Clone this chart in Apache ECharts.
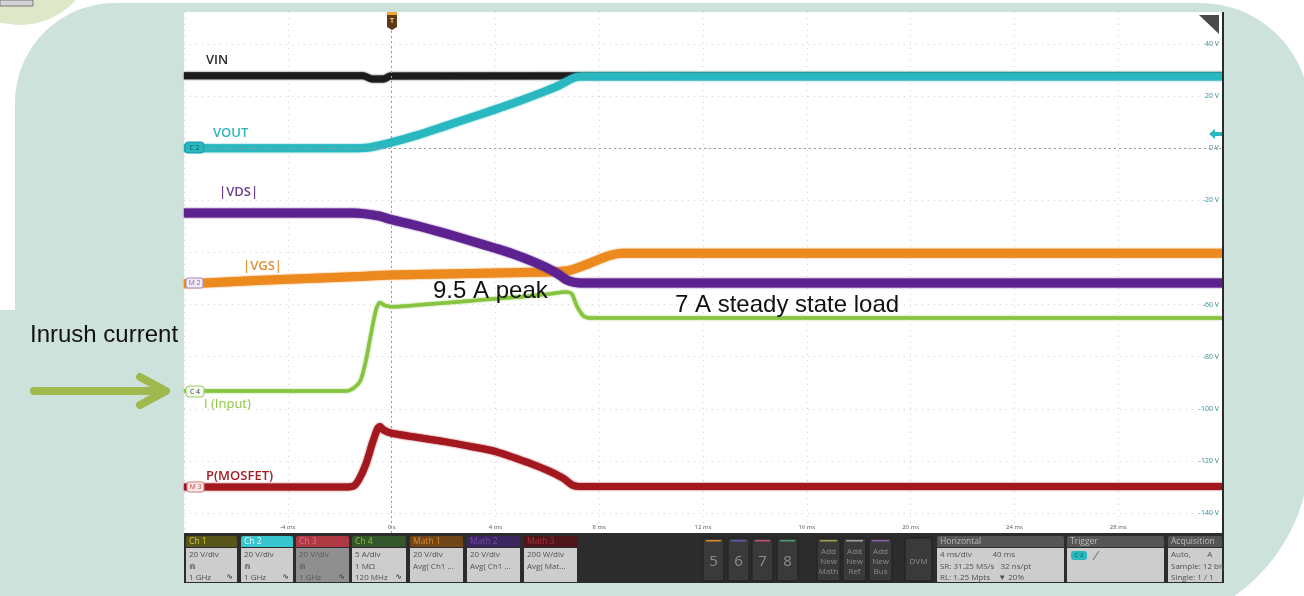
<!DOCTYPE html>
<html>
<head>
<meta charset="utf-8">
<script src="https://cdn.jsdelivr.net/npm/echarts@6/dist/echarts.min.js"></script>
<style>
  html, body { margin: 0; padding: 0; background: #ffffff; }
  #c { width: 1304px; height: 596px; }
</style>
</head>
<body>
<div id="c"></div>
<script>
// ---- captured traces: time in ms, values in each channel's own unit ----
const vinT  = [-8, -1.1, -0.75, -0.3, -0.05, 32];
const vinV  = [27.8, 27.8, 26.6, 26.6, 27.7, 27.8];            // V

const voutT = [-8, -1.5, -0.8, 0, 1, 2, 3, 4, 5, 6, 6.5, 7.0, 7.3, 32];
const voutV = [0, 0, 0.4, 2.2, 5.0, 8.3, 11.6, 14.9, 18.4, 22.2, 24.3, 26.9, 27.5, 27.5]; // V

const vgsT  = [-8, -7, -5, -3, -1, 0, 2, 4, 6, 6.8, 7.2, 8.4, 8.9, 32];
const vgsV  = [0, 0.4, 1.3, 2.1, 2.9, 3.3, 3.7, 4.1, 4.5, 5.0, 6.2, 10.8, 11.7, 11.7]; // V

const vdsT  = [-8, -1.5, -1.0, -0.5, 0, 1, 2.1, 3, 4, 4.66, 5.5, 6, 6.4, 6.75, 7.05, 7.3, 32];
const vdsV  = [27.1, 27.1, 26.8, 26.0, 24.6, 22.2, 19.2, 16.6, 13.6, 11.5, 8.3, 6.0, 3.8, 1.4, 0.5, 0.3, 0.3]; // V

const iinT  = [-8, -1.75, -1.45, -1.2, -1.0, -0.8, -0.6, -0.45, -0.25, 0, 1, 2, 3, 4, 5, 6, 6.75, 6.95, 7.15, 7.4, 7.7, 32];
const iinV  = [0, 0, 0.3, 1.0, 2.8, 5.4, 7.8, 8.5, 8.2, 8.1, 8.25, 8.45, 8.65, 8.85, 9.05, 9.3, 9.5, 9.3, 8.1, 7.2, 7.0, 7.0]; // A

const pmosT = [-8, -1.7, -1.45, -1.25, -1.0, -0.75, -0.55, -0.45, -0.3, 0, 1, 2.1, 3, 4.05, 5.3, 6.0, 6.6, 6.95, 7.2, 32];
const pmosV = [0, 0, 4, 30, 85, 165, 222, 232, 218, 206, 190, 173, 156, 135, 92, 64, 34, 8, 2, 2]; // W

// vertical settings of each channel: units per division and position in divisions
const chScale = { vin: 20, vout: 20, vgs: 20, vds: 20, iin: 5, pmos: 200 };
const chPos   = { vin: 0, vout: 0, vgs: -2.6, vds: -2.6, iin: -4.66, pmos: -6.5 };

// graticule
const timeTicks = [-8, -4, 0, 4, 8, 12, 16, 20, 24, 28, 32];
const voltTicks = [40, 20, 0, -20, -40, -60, -80, -100, -120, -140];
const VOLTS_PER_DIV = 20;

const peakCurrent = Math.max(...iinV);
const steadyCurrent = iinV[iinV.length - 1];

function trace(key, t, v) {
  return t.map((x, i) => [x, (v[i] / chScale[key] + chPos[key]) * VOLTS_PER_DIV]);
}

// ---- screen geometry (pixels) ----
const SX = 184, SY = 12, SW = 1038, SH = 521;
const PX_PER_V = (513 - 44) / 180;
const yMax = 40 + (44 - SY) / PX_PER_V;
const yMin = -140 - (SY + SH - 513) / PX_PER_V;

const chart = echarts.init(document.getElementById('c'), null, { renderer: 'canvas' });

function lineSeries(name, data, color, width, z) {
  return {
    name, type: 'line', data, showSymbol: false, symbol: 'none',
    smooth: 0.25,
    z, lineStyle: { color, width, cap: 'butt', join: 'round', shadowBlur: 2, shadowColor: color },
    emphasis: { disabled: true }, animation: false
  };
}

// points along a circular arc (angles in degrees, screen orientation)
function arcPts(cx, cy, r, a0, a1, n) {
  const out = [];
  for (let i = 0; i <= n; i++) {
    const a = (a0 + (a1 - a0) * i / n) * Math.PI / 180;
    out.push([cx + r * Math.cos(a), cy + r * Math.sin(a)]);
  }
  return out;
}

// rounded backdrop panel
const panelPts = [].concat(
  arcPts(115, 103, 100, 180, 270, 24),
  arcPts(1200, 113, 110, 270, 360, 24),
  arcPts(1131, 450, 179, 0, 90, 30),
  [[0, 629], [0, 310], [15, 310]]
);

const FONT = '"Open Sans"';

// status-bar tile
function tile(x, w, head, headFill, headText, bodyFill, bodyText, lines, wave) {
  const els = [
    { type: 'rect', shape: { x, y: 536, width: w, height: 11, r: [2, 2, 0, 0] }, style: { fill: headFill } },
    { type: 'text', x: x + 3, y: 541.5, style: { text: head, fill: headText, font: '8.5px ' + FONT, textVerticalAlign: 'middle' } },
    { type: 'rect', shape: { x, y: 548, width: w, height: 34 }, style: { fill: bodyFill } }
  ];
  lines.forEach((s, i) => {
    els.push({ type: 'text', x: x + 3, y: 555 + i * 11.5, style: { text: s, fill: bodyText, font: '8px ' + FONT, textVerticalAlign: 'middle' } });
  });
  if (wave) {
    els.push({ type: 'text', x: x + w - 4, y: 577, style: { text: '∿', fill: '#444', font: 'bold 8px "DejaVu Sans"', textAlign: 'right', textVerticalAlign: 'middle' } });
  }
  return els;
}

function button(x, w, lineColor, label, big) {
  const els = [
    { type: 'rect', shape: { x, y: 538, width: w, height: 43, r: 2 }, style: { fill: '#3a3a3a', stroke: '#1e1e1e', lineWidth: 1 } }
  ];
  if (lineColor) els.push({ type: 'rect', shape: { x: x + 3, y: 540, width: w - 6, height: 1.5 }, style: { fill: lineColor } });
  els.push({ type: 'text', x: x + w / 2, y: 562, style: { text: label, fill: '#8c8c8c', font: (big ? '15px ' : '8px ') + FONT, textAlign: 'center', textVerticalAlign: 'middle', lineHeight: 10 } });
  return els;
}

const background = [
  { type: 'circle', shape: { cx: 20, cy: -50, r: 75 }, style: { fill: '#dfe7c9' } },
  { type: 'rect', shape: { x: 0, y: 0, width: 33, height: 6 }, style: { fill: '#d2d2d2', stroke: '#7a7a7a', lineWidth: 1 } },
  { type: 'polygon', shape: { points: panelPts }, style: { fill: '#cee2dc' } },
  { type: 'rect', shape: { x: SX, y: SY, width: SW + 1, height: SH + 1 }, style: { fill: '#ffffff' } }
];

const overlay = [
  // trigger marker
  { type: 'rect', shape: { x: 387, y: 12, width: 10, height: 3 }, style: { fill: '#f2a53a' } },
  { type: 'polygon', shape: { points: [[387, 15], [397, 15], [397, 27], [392, 30], [387, 27]] }, style: { fill: '#5b3a14' } },
  { type: 'text', x: 392, y: 21, style: { text: 'T', fill: '#f2c07a', font: 'bold 7px ' + FONT, textAlign: 'center', textVerticalAlign: 'middle' } },
  // corner badge
  { type: 'polygon', shape: { points: [[1199, 15], [1219, 15], [1219, 34]] }, style: { fill: '#4a4a4a' } },
  // zero-level arrow for Ch 2
  { type: 'polygon', shape: { points: [[1209, 134], [1215, 129], [1215, 132], [1222, 132], [1222, 136], [1215, 136], [1215, 139]] }, style: { fill: '#2ab8c0' } },
  // right frame
  { type: 'rect', shape: { x: 1222, y: 12, width: 2, height: 571 }, style: { fill: '#2a2a2a' } },

  // channel reference markers
  { type: 'rect', shape: { x: 185, y: 142, width: 19, height: 11, r: 3 }, style: { fill: '#2ab8c0', stroke: '#179aa2', lineWidth: 1 } },
  { type: 'text', x: 194.5, y: 147.5, style: { text: 'C 2', fill: '#0b5a60', font: '7px ' + FONT, textAlign: 'center', textVerticalAlign: 'middle' } },
  { type: 'rect', shape: { x: 186, y: 278, width: 17, height: 10, r: 2 }, style: { fill: '#f0e9f7', stroke: '#a48cc4', lineWidth: 1 } },
  { type: 'text', x: 194.5, y: 283, style: { text: 'M 2', fill: '#8a6ab0', font: '7px ' + FONT, textAlign: 'center', textVerticalAlign: 'middle' } },
  { type: 'rect', shape: { x: 186, y: 386, width: 18, height: 11, r: 3 }, style: { fill: '#f6fbef', stroke: '#9cc86a', lineWidth: 1 } },
  { type: 'text', x: 195, y: 391.5, style: { text: 'C 4', fill: '#3a3a3a', font: '7px ' + FONT, textAlign: 'center', textVerticalAlign: 'middle' } },
  { type: 'rect', shape: { x: 187, y: 482, width: 17, height: 10, r: 2 }, style: { fill: '#fbe9e9', stroke: '#d07a7a', lineWidth: 1 } },
  { type: 'text', x: 195.5, y: 487, style: { text: 'M 3', fill: '#c04040', font: '7px ' + FONT, textAlign: 'center', textVerticalAlign: 'middle' } },

  // trace names
  { type: 'text', x: 206, y: 60, style: { text: 'VIN', fill: '#2a2a2a', font: '600 13px ' + FONT, textVerticalAlign: 'middle' } },
  { type: 'text', x: 213, y: 133, style: { text: 'VOUT', fill: '#2db3bb', font: '600 13px ' + FONT, textVerticalAlign: 'middle' } },
  { type: 'text', x: 219, y: 192, style: { text: '|VDS|', fill: '#6b3f93', font: '600 13px ' + FONT, textVerticalAlign: 'middle' } },
  { type: 'text', x: 243, y: 266, style: { text: '|VGS|', fill: '#e0902e', font: '600 13px ' + FONT, textVerticalAlign: 'middle' } },
  { type: 'text', x: 204, y: 404, style: { text: 'I (Input)', fill: '#8cc63f', font: '13px ' + FONT, textVerticalAlign: 'middle' } },
  { type: 'text', x: 206, y: 476, style: { text: 'P(MOSFET)', fill: '#a01e24', font: '600 13px ' + FONT, textVerticalAlign: 'middle' } },

  // annotations
  { type: 'text', x: 433, y: 291.5, style: { text: peakCurrent + ' A peak', fill: '#111', font: '24px "Liberation Sans"', textVerticalAlign: 'middle' } },
  { type: 'text', x: 675, y: 305, style: { text: steadyCurrent + ' A steady state load', fill: '#111', font: '24px "Liberation Sans"', textVerticalAlign: 'middle' } },
  { type: 'text', x: 30, y: 335, style: { text: 'Inrush current', fill: '#111', font: '24px "Liberation Sans"', textVerticalAlign: 'middle' } },
  { type: 'polyline', shape: { points: [[34, 391], [165, 391]] }, style: { stroke: '#9fb94e', lineWidth: 8, lineCap: 'round' } },
  { type: 'polyline', shape: { points: [[140, 377], [166, 391], [140, 405]] }, style: { stroke: '#9fb94e', lineWidth: 8, lineCap: 'round', lineJoin: 'round', fill: null } },

  // status bar
  { type: 'rect', shape: { x: 184, y: 533, width: 1039, height: 50 }, style: { fill: '#2c2c2c' } },
  ...tile(186, 51, 'Ch 1', '#58561c', '#d6cf3a', '#cdcdcd', '#505050', ['20 V/div', '⋒', '1 GHz'], true),
  ...tile(241, 52, 'Ch 2', '#37c6ce', '#e8ffff', '#cdcdcd', '#505050', ['20 V/div', '⋒', '1 GHz'], true),
  ...tile(296, 53, 'Ch 3', '#b03a44', '#e07080', '#8f8f8f', '#5a5a5a', ['20 V/div', '⋒', '1 GHz'], true),
  ...tile(352, 54, 'Ch 4', '#34562a', '#8cc63f', '#cdcdcd', '#505050', ['5 A/div', '1 MΩ', '120 MHz'], true),
  ...tile(410, 53, 'Math 1', '#6e4618', '#e08a2a', '#cdcdcd', '#505050', ['20 V/div', 'Avg( Ch1 ...']),
  ...tile(467, 53, 'Math 2', '#3c2660', '#7a4aa8', '#cdcdcd', '#505050', ['20 V/div', 'Avg( Ch1 ...']),
  ...tile(524, 53, 'Math 3', '#4e161a', '#b0303a', '#cdcdcd', '#505050', ['200 W/div', 'Avg( Mat...']),
  ...button(703, 21, '#e08a2a', '5', true),
  ...button(728, 21, '#5a5ab0', '6', true),
  ...button(752, 21, '#c05070', '7', true),
  ...button(777, 21, '#40a070', '8', true),
  ...button(817, 23, '#a0a040', 'Add\nNew\nMath', false),
  ...button(843, 23, '#a0a0a0', 'Add\nNew\nRef', false),
  ...button(869, 23, '#8a5ab0', 'Add\nNew\nBus', false),
  ...button(905, 27, null, 'DVM', false),
  ...tile(937, 127, 'Horizontal', '#555555', '#bdbdbd', '#cdcdcd', '#505050', ['4 ms/div          40 ms', 'SR: 31.25 MS/s   32 ns/pt', 'RL: 1.25 Mpts    ▼ 20%']),
  ...tile(1067, 97, 'Trigger', '#555555', '#bdbdbd', '#cdcdcd', '#505050', ['', '', '']),
  { type: 'rect', shape: { x: 1071, y: 551, width: 16, height: 9, r: 3 }, style: { fill: '#2ab8c0' } },
  { type: 'text', x: 1079, y: 555.5, style: { text: 'C 2', fill: '#0b5a60', font: '6px ' + FONT, textAlign: 'center', textVerticalAlign: 'middle' } },
  { type: 'polyline', shape: { points: [[1093, 560], [1099, 551]] }, style: { stroke: '#6a6a6a', lineWidth: 1 } },
  ...tile(1168, 54, 'Acquisition', '#555555', '#bdbdbd', '#cdcdcd', '#505050', ['Auto,        A', 'Sample: 12 bit', 'Single: 1 / 1'])
];

background.forEach(e => { e.z = -5; e.silent = true; });
overlay.forEach(e => { e.z = 50; e.silent = true; });

const option = {
  animation: false,
  backgroundColor: '#ffffff',
  graphic: background.concat(overlay),
  grid: { left: SX, top: SY, width: SW, height: SH, show: false },
  xAxis: {
    type: 'value', min: timeTicks[0], max: timeTicks[timeTicks.length - 1], interval: 4,
    axisLine: { show: false }, axisTick: { show: false },
    splitLine: { show: true, lineStyle: { color: '#d2d2d2', width: 1, type: [1, 5] } },
    axisLabel: {
      inside: true, margin: 3, fontSize: 6, color: '#555555', fontFamily: 'Open Sans',
      showMinLabel: false, showMaxLabel: false,
      formatter: v => (v === 0 ? '0 s' : v + ' ms')
    }
  },
  yAxis: {
    type: 'value', position: 'right', min: yMin, max: yMax,
    axisLine: { show: false },
    axisTick: { show: false, customValues: voltTicks },
    splitLine: { show: true, lineStyle: { color: '#d2d2d2', width: 1, type: [1, 5] } },
    axisLabel: {
      inside: true, margin: 3, fontSize: 7, color: '#2f8e96', fontFamily: 'Open Sans',
      customValues: voltTicks, formatter: v => v + ' V'
    }
  },
  series: [
    Object.assign(lineSeries('VIN', trace('vin', vinT, vinV), '#1c1c1c', 7, 2), {
      markLine: {
        silent: true, symbol: 'none', animation: false, label: { show: false },
        lineStyle: { color: '#9a9a9a', width: 1, type: [2, 3] },
        data: [{ xAxis: 0 }, { yAxis: 0 }]
      }
    }),
    lineSeries('VOUT', trace('vout', voutT, voutV), '#2ab8c0', 8, 3),
    lineSeries('|VGS|', trace('vgs', vgsT, vgsV), '#ec8a20', 9, 4),
    lineSeries('|VDS|', trace('vds', vdsT, vdsV), '#5e2290', 9, 5),
    lineSeries('I (Input)', trace('iin', iinT, iinV), '#86c440', 3.5, 6),
    lineSeries('P(MOSFET)', trace('pmos', pmosT, pmosV), '#a3181e', 7, 7)
  ]
};

chart.setOption(option);
</script>
</body>
</html>
